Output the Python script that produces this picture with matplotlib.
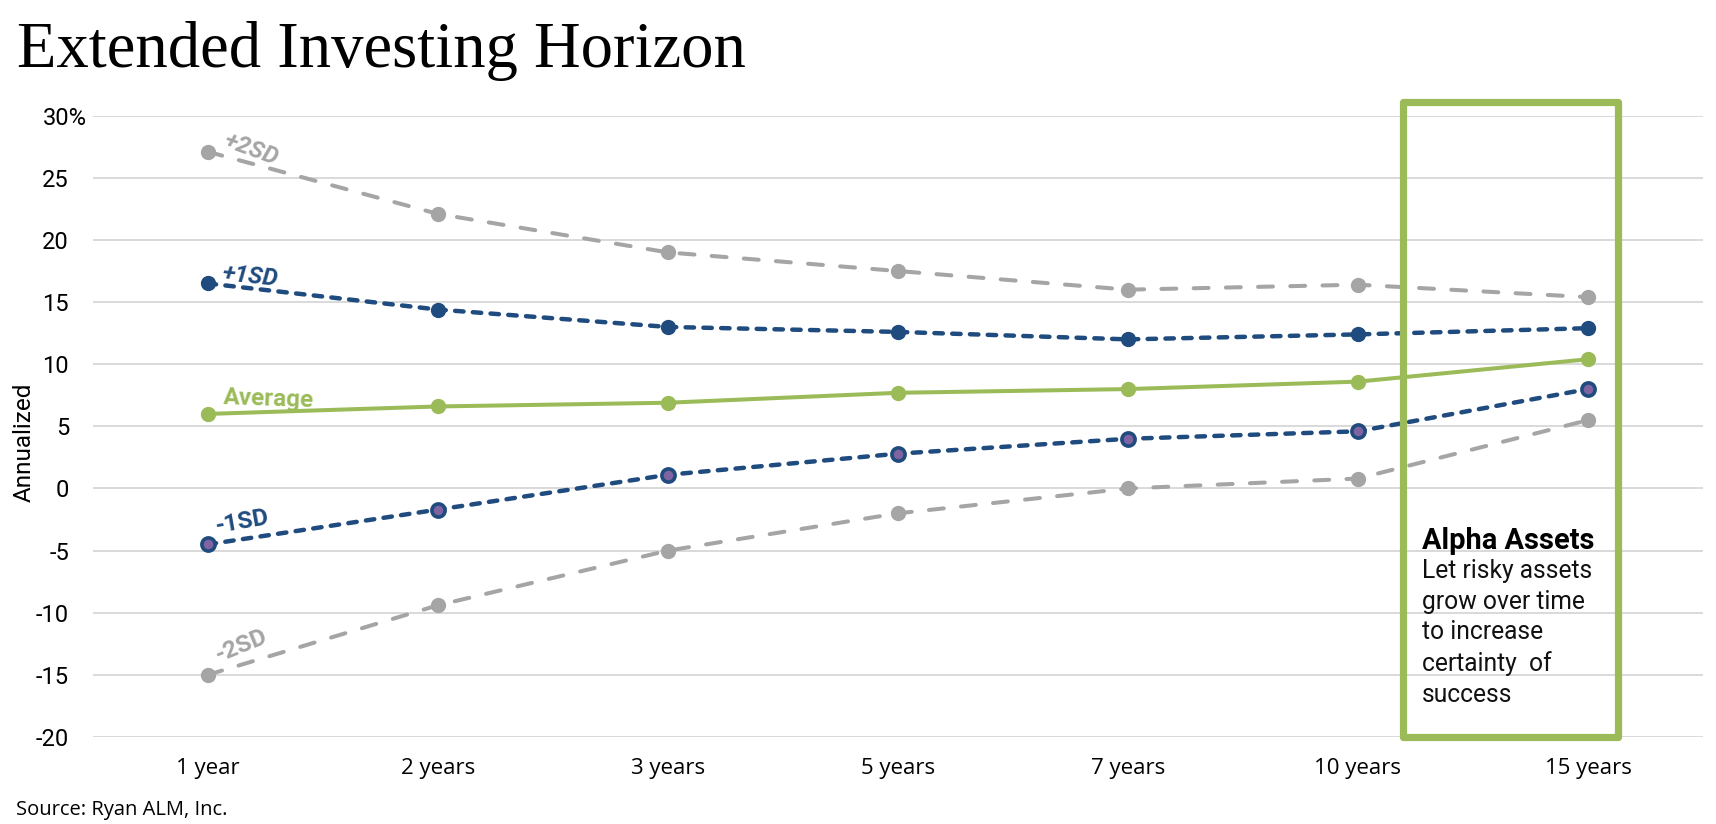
import matplotlib
matplotlib.use("Agg")
import matplotlib.pyplot as plt
from matplotlib.patches import Rectangle
import matplotlib.transforms as mtransforms

# ---- data ----
categories = ["1 year", "2 years", "3 years", "5 years", "7 years", "10 years", "15 years"]
plus2sd = [27.1, 22.1, 19.0, 17.5, 16.0, 16.4, 15.4]
plus1sd = [16.5, 14.4, 13.0, 12.6, 12.0, 12.4, 12.9]
average = [6.0, 6.6, 6.9, 7.7, 8.0, 8.6, 10.4]
minus1sd = [-4.5, -1.7, 1.1, 2.8, 4.0, 4.6, 8.0]
minus2sd = [-15.0, -9.4, -5.0, -2.0, 0.0, 0.8, 5.5]
yticks = [-20, -15, -10, -5, 0, 5, 10, 15, 20, 25, 30]
ytick_labels = ["-20", "-15", "-10", "-5", "0", "5", "10", "15", "20", "25", "30%"]

GRAY = "#A5A5A5"
BLUE = "#1F4B7E"
GREEN = "#9BBB59"
PURPLE = "#8064A2"

W, H = 1716, 824
fig = plt.figure(figsize=(W / 100, H / 100), dpi=100)
ax = fig.add_axes([92.7 / W, 1 - 737 / H, (1703 - 92.7) / W, (737 - 115.7) / H])

x = list(range(len(categories)))

ax.plot(x, plus2sd, color=GRAY, lw=2.9, dashes=[3.7, 4.3], dash_capstyle="round",
        marker="o", ms=10, mfc=GRAY, mec=GRAY, zorder=3)
ax.plot(x, minus2sd, color=GRAY, lw=2.9, dashes=[3.7, 4.3], dash_capstyle="round",
        marker="o", ms=10, mfc=GRAY, mec=GRAY, zorder=3)
ax.plot(x, plus1sd, color=BLUE, lw=3.2, dashes=[1.9, 2.1], dash_capstyle="round",
        marker="o", ms=10, mfc=BLUE, mec=BLUE, zorder=4)
ax.plot(x, minus1sd, color=BLUE, lw=3.2, dashes=[1.9, 2.1], dash_capstyle="round",
        marker="o", ms=9.5, mfc=PURPLE, mec=BLUE, mew=2.6, zorder=4)
ax.plot(x, average, color=GREEN, lw=2.9, solid_capstyle="round",
        marker="o", ms=10, mfc=GREEN, mec=GREEN, zorder=5)

ax.set_xlim(-0.5, len(categories) - 0.5)
ax.set_ylim(-20, 30)
ax.set_yticks(yticks)
ax.set_yticklabels(ytick_labels, fontsize=17, family="Roboto", color="#000000")
ax.set_xticks(x)
ax.set_xticklabels(categories, fontsize=16, family="Open Sans", color="#000000")
ax.tick_params(axis="both", length=0)
ax.tick_params(axis="y", pad=17)
ax.tick_params(axis="x", pad=15)
ax.grid(axis="y", color="#D9D9D9", lw=1.4)
ax.set_axisbelow(True)
for s in ax.spines.values():
    s.set_visible(False)

# shift "30%" so its digits line up with the other labels
lab = ax.get_yticklabels()[-1]
lab.set_transform(lab.get_transform() + mtransforms.ScaledTranslation(18 / 100, 0, fig.dpi_scale_trans))

# series labels
def lbl(text, yv, dx, dy, rot, color, italic=False):
    ax.annotate(text, xy=(0, yv), xytext=(dx, dy), textcoords="offset pixels",
                ha="center", va="center", rotation=rot, fontsize=17.5,
                family="Roboto", fontweight="bold", color=color,
                fontstyle="italic" if italic else "normal", zorder=6)

lbl("+2SD", plus2sd[0], 43, 2, -20, GRAY, True)
lbl("+1SD", plus1sd[0], 42, 6.5, -6, BLUE, True)
lbl("Average", average[0], 61, 15, -2, GREEN)
lbl("-1SD", minus1sd[0], 34, 22, 10, BLUE)
lbl("-2SD", minus2sd[0], 34, 29, 22, GRAY)

# Alpha Assets box
box_left = 5.197
box_right = 6.132
box_top = 31.13
box_bottom = -20
ax.add_patch(Rectangle((box_left, box_bottom), box_right - box_left, box_top - box_bottom,
                       fill=False, ec=GREEN, lw=5.2, joinstyle="round",
                       clip_on=False, zorder=7))

t_head = fig.text(1422 / W, 1 - 541 / H, "Alpha Assets", fontsize=20, family="Roboto",
                  fontweight="bold", ha="left", va="center", color="#000000")
t_body = fig.text(1422 / W, 1 - 559 / H,
                  "Let risky assets\ngrow over time\nto increase\ncertainty  of\nsuccess",
                  fontsize=17, family="Roboto", ha="left", va="top", linespacing=1.43,
                  color="#111111")

# title, axis label, source
t_title = fig.text(17 / W, 1 - 67 / H, "Extended Investing Horizon", fontsize=47,
                   family="Liberation Serif", ha="left", va="baseline", color="#000000")
fig.text(24 / W, 1 - 442 / H, "Annualized", fontsize=17.5, family="Roboto",
         rotation=90, ha="center", va="center", color="#000000")
t_src = fig.text(16 / W, 1 - 810 / H, "Source: Ryan ALM, Inc.", fontsize=14,
                 family="Open Sans", ha="left", va="center", color="#000000")

# fit text widths to the reference layout (pixels)
fig.canvas.draw()
r = fig.canvas.get_renderer()
for t, target in [(t_head, 172), (t_body, 171), (t_title, 729), (t_src, 212)]:
    wpx = t.get_window_extent(renderer=r).width
    t.set_fontsize(t.get_fontsize() * target / wpx)
# keep body line pitch ~30.5 px
fig.canvas.draw()
fs_body = t_body.get_fontsize()
t_body.set_linespacing(1.43 * 16.8 / fs_body)

fig.savefig("out.png", dpi=100)
